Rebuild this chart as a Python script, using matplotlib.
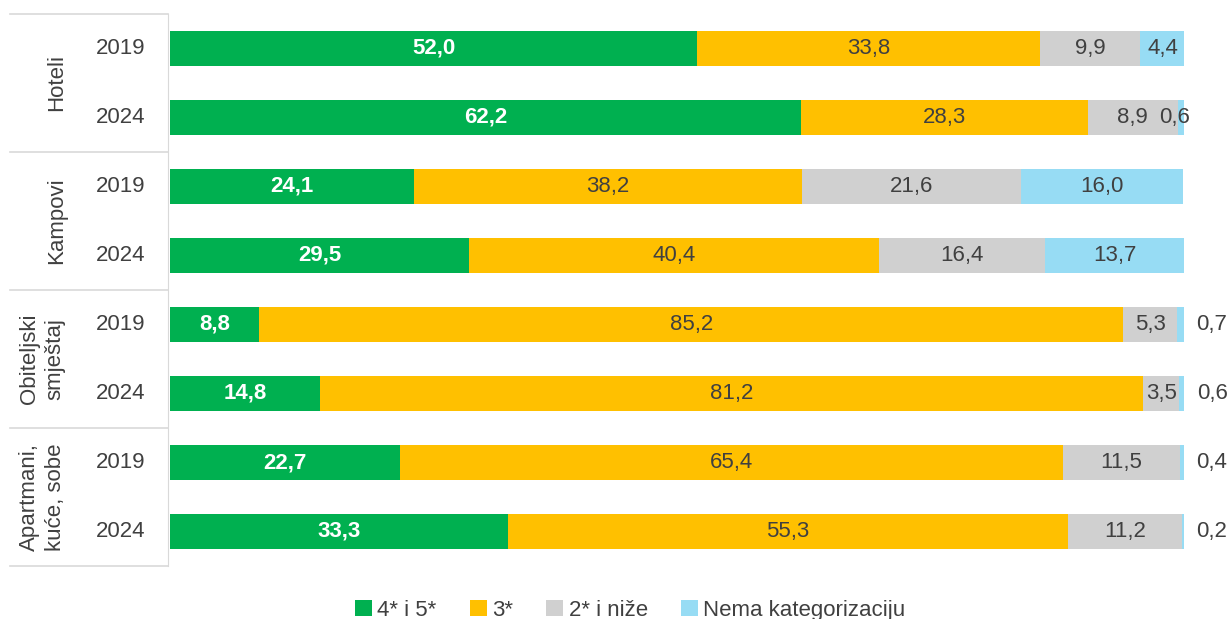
import matplotlib.pyplot as plt
import matplotlib.transforms as mtransforms
from matplotlib.patches import Patch

plt.rcParams['font.family'] = ['Liberation Sans', 'DejaVu Sans']

# data
groups = ["Hoteli", "Kampovi", "Obiteljski\nsmještaj", "Apartmani,\nkuće, sobe"]
years = ["2019", "2024"]
series_names = ["4* i 5*", "3*", "2* i niže", "Nema kategorizaciju"]
cat_45 = [52.0, 62.2, 24.1, 29.5, 8.8, 14.8, 22.7, 33.3]
cat_3 = [33.8, 28.3, 38.2, 40.4, 85.2, 81.2, 65.4, 55.3]
cat_2 = [9.9, 8.9, 21.6, 16.4, 5.3, 3.5, 11.5, 11.2]
cat_none = [4.4, 0.6, 16.0, 13.7, 0.7, 0.6, 0.4, 0.2]

colors = ["#00B050", "#FFC000", "#D0D0D0", "#97DCF4"]
txt = "#404040"
fs = 16

fig = plt.figure(figsize=(12.31, 6.19), dpi=100)
ax = fig.add_axes([170 / 1231, 1 - 566 / 619, 1014 / 1231, 552 / 619])

n = len(cat_45)
ypos = list(range(n))
series = [cat_45, cat_3, cat_2, cat_none]
left = [0.0] * n
for s, vals in enumerate(series):
    ax.barh(ypos, vals, left=left, height=0.5, color=colors[s], edgecolor="none")
    for i, v in enumerate(vals):
        lab = f"{v:.1f}".replace(".", ",")
        cx = left[i] + v / 2
        if s == 0:
            ax.text(cx, i, lab, ha="center", va="center",
                    color="white", fontweight="bold", fontsize=fs)
        elif s == 3 and v < 1 and i > 1:
            # small shares sit outside the bar
            ax.text(left[i] + v + 2.7, i, lab, ha="center",
                    va="center", color=txt, fontsize=fs)
        elif s == 3 and v < 1:
            ax.text(cx - 0.6, i, lab, ha="center",
                    va="center", color=txt, fontsize=fs)
        else:
            ax.text(cx, i, lab, ha="center", va="center",
                    color=txt, fontsize=fs)
    left = [l + v for l, v in zip(left, vals)]

ax.set_xlim(0, 100)
ax.set_ylim(n - 0.5, -0.5)
ax.set_xticks([])
ax.set_yticks([])
for sp in ["top", "right", "bottom"]:
    ax.spines[sp].set_visible(False)
ax.spines["left"].set_color("#D9D9D9")
ax.spines["left"].set_position(("axes", -0.002))

trans = mtransforms.blended_transform_factory(ax.transAxes, ax.transData)
for b in [-0.5, 1.5, 3.5, 5.5, 7.5]:
    ax.plot([-0.158, -0.002], [b, b], transform=trans, color="#D9D9D9",
            lw=1.2, clip_on=False)

for i in range(n):
    ax.text(-0.024, i, years[i % 2], transform=trans, ha="right", va="center",
            color=txt, fontsize=fs)

for g, name in enumerate(groups):
    gx = -0.126 if "\n" in name else -0.112
    ax.text(gx, 2 * g + 0.5, name, transform=trans, ha="center", va="center",
            rotation=90, color=txt, fontsize=fs, linespacing=1.3)

handles = [Patch(facecolor=c, edgecolor="none") for c in colors]
fig.legend(handles, series_names, loc="center", bbox_to_anchor=(0.512, 0.014),
           ncol=4, frameon=False, fontsize=fs, handlelength=0.75, handleheight=0.75,
           handletextpad=0.25, columnspacing=1.5, labelcolor=txt)

fig.savefig("out.png", dpi=100)
